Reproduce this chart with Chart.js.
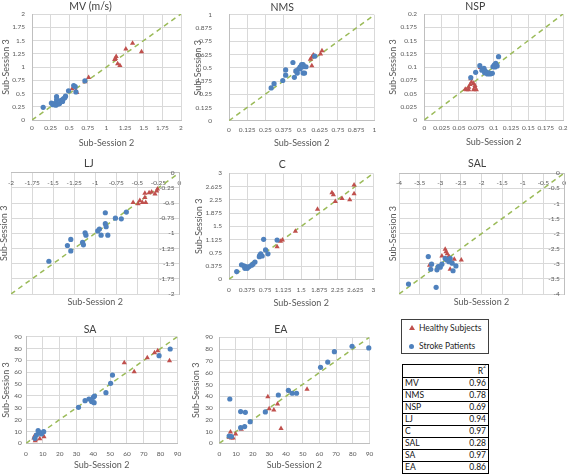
<!DOCTYPE html>
<html><head><meta charset="utf-8">
<script src="https://cdn.jsdelivr.net/npm/chart.js@4/dist/chart.umd.min.js"></script>
<style>
html,body{margin:0;padding:0;background:#fff;width:572px;height:475px;overflow:hidden;position:relative;font-family:Lato,"Open Sans",sans-serif;}
canvas{position:absolute;}
#legend{position:absolute;left:401px;top:319px;width:88px;height:35px;border:1px solid #404040;box-sizing:border-box;font-size:8.5px;color:#262626;}
#legend .it{position:absolute;left:17px;line-height:10px;height:10px;white-space:nowrap;}
#legend .tri{position:absolute;left:-10px;top:2px;width:0;height:0;border-left:3px solid transparent;border-right:3px solid transparent;border-bottom:5px solid #C0504D;}
#legend .dot{position:absolute;left:-10px;top:2.5px;width:5px;height:5px;border-radius:50%;background:#4F81BD;}
#tbl{position:absolute;left:402px;top:364px;width:87px;border:1px solid #000;box-sizing:border-box;font-size:8.5px;color:#111;}
#tbl .r{position:relative;height:11px;line-height:11px;border-top:1px solid #000;}
#tbl .r:first-child{border-top:none;height:12px;line-height:13px;}
#tbl .l{position:absolute;left:2px;}
#tbl .v{position:absolute;right:2px;}
#tbl sup{font-size:5px;vertical-align:6px;line-height:0;}
</style></head><body>
<div id="legend">
  <div class="it" style="top:3px"><span class="tri"></span>Healthy Subjects</div>
  <div class="it" style="top:21px"><span class="dot"></span>Stroke Patients</div>
</div>
<div id="tbl"></div>
<script>
// ---------- data ----------
const mvHealthyX = [0.54,0.59,0.60,0.71,0.76,1.11,1.12,1.13,1.15,1.18,1.26,1.35,1.47];
const mvHealthyY = [0.59,0.55,0.52,0.72,0.80,1.14,1.16,1.20,1.06,1.03,1.34,1.45,1.29];
const mvStrokeX = [0.15,0.26,0.28,0.30,0.32,0.33,0.33,0.35,0.37,0.39,0.41,0.42,0.44,0.45,0.49,0.56,0.58,0.59,0.71];
const mvStrokeY = [0.24,0.32,0.29,0.31,0.28,0.44,0.38,0.30,0.31,0.37,0.35,0.40,0.42,0.45,0.55,0.65,0.63,0.53,0.74];

const nmsHealthyX = [0.46,0.51,0.52,0.56,0.57,0.58,0.59,0.57,0.63,0.64];
const nmsHealthyY = [0.47,0.52,0.51,0.58,0.60,0.62,0.61,0.52,0.63,0.66];
const nmsStrokeX = [0.29,0.31,0.37,0.39,0.39,0.44,0.45,0.46,0.47,0.48,0.49,0.49,0.50,0.51,0.51,0.52,0.53,0.51,0.59];
const nmsStrokeY = [0.31,0.35,0.38,0.43,0.48,0.55,0.41,0.47,0.45,0.49,0.51,0.49,0.53,0.53,0.45,0.45,0.51,0.51,0.61];

const nspHealthyX = [0.059,0.061,0.064,0.066,0.068,0.071,0.067,0.073,0.075,0.071,0.073,0.081,0.064];
const nspHealthyY = [0.058,0.057,0.062,0.067,0.071,0.069,0.078,0.062,0.057,0.057,0.065,0.099,0.057];
const nspStrokeX = [0.067,0.074,0.080,0.083,0.086,0.087,0.087,0.089,0.091,0.093,0.095,0.098,0.099,0.101,0.102,0.103,0.105,0.107];
const nspStrokeY = [0.080,0.090,0.1025,0.094,0.0975,0.093,0.089,0.091,0.087,0.089,0.087,0.088,0.1006,0.104,0.100,0.107,0.102,0.1195];

const ljHealthyX = [-0.55,-0.49,-0.47,-0.44,-0.41,-0.40,-0.41,-0.36,-0.33,-0.29,-0.27,-0.26];
const ljHealthyY = [-0.49,-0.51,-0.46,-0.49,-0.41,-0.49,-0.34,-0.33,-0.32,-0.35,-0.30,-0.27];
const ljStrokeX = [-1.55,-1.33,-1.29,-1.29,-1.15,-1.14,-1.12,-1.11,-0.97,-0.95,-0.93,-0.88,-0.88,-0.87,-0.85,-0.76,-0.69,-0.63];
const ljStrokeY = [-1.46,-1.20,-1.10,-1.29,-1.15,-1.19,-0.99,-1.03,-0.96,-0.93,-1.03,-0.66,-0.84,-0.89,-1.03,-0.75,-0.76,-0.65];

const cHealthyX = [1.00,1.07,1.11,1.38,1.84,2.14,2.17,2.21,2.35,2.51,2.60,2.60];
const cHealthyY = [0.92,1.08,1.11,1.36,1.98,2.45,2.39,2.20,2.29,2.25,2.67,2.42];
const cStrokeX = [0.16,0.26,0.31,0.33,0.35,0.38,0.42,0.47,0.50,0.54,0.63,0.64,0.66,0.69,0.72,0.76,0.81,1.00];
const cStrokeY = [0.22,0.41,0.38,0.31,0.36,0.31,0.36,0.40,0.43,0.49,0.64,0.68,0.72,0.66,1.13,0.83,0.72,1.11];

const salHealthyX = [-3.26,-2.96,-2.88,-2.86,-2.83,-2.79,-2.76,-2.66,-2.49,-2.82];
const salHealthyY = [-3.05,-2.74,-2.52,-2.60,-2.67,-2.76,-3.18,-2.85,-2.87,-2.82];
const salStrokeX = [-3.77,-3.29,-3.21,-3.23,-3.10,-3.08,-3.05,-3.00,-2.96,-2.88,-2.84,-2.79,-2.76,-2.71,-2.69,-2.62];
const salStrokeY = [-3.67,-2.76,-3.01,-3.18,-3.78,-3.20,-3.09,-3.11,-3.01,-2.82,-2.87,-2.93,-2.82,-2.98,-3.23,-3.07];

const saHealthyX = [4.7,5.1,5.5,5.8,8.2,10.7,58.4,64.3,72.1,76.4,78.3,85.3];
const saHealthyY = [4.5,6.2,2.2,3.4,3.9,5.6,68.0,60.5,72.3,76.5,78.2,69.7];
const saStrokeX = [5.3,6.2,7.2,8.2,9.2,10.5,31.2,35.1,37.4,39.0,40.0,40.5,40.7,47.5,50.3,51.4,79.1,85.7];
const saStrokeY = [4.2,7.0,10.7,9.0,7.9,9.8,30.4,36.0,37.4,35.2,38.8,34.3,39.9,42.7,50.6,57.6,74.0,79.6];

const eaHealthyX = [5.9,6.7,7.3,8.3,9.8,13.2,29.1,29.9,32.7,34.9,37.0,42.1,52.6];
const eaHealthyY = [5.1,9.6,4.5,4.5,7.9,11.9,39.6,29.4,28.3,33.4,12.5,44.2,45.9];
const eaStrokeX = [5.9,6.3,7.3,12.8,12.8,15.2,15.6,18.5,27.6,35.4,41.4,43.7,46.3,60.7,65.0,69.0,79.6,89.6];
const eaStrokeY = [6.2,37.6,5.7,26.9,13.3,14.2,26.3,18.4,26.6,41.0,45.0,42.5,42.5,64.5,69.0,77.8,82.4,81.0];

// axis ranges: [min, max, tick step]
const mvAxis = [0, 2, 0.25];
const nmsAxis = [0, 1, 0.125];
const nspAxis = [0, 0.2, 0.025];
const ljAxis = [-2, 0, 0.25];
const cAxis = [0, 3, 0.375];
const salAxis = [-4, 0, 0.5];
const saAxis = [0, 90, 10];
const eaAxis = [0, 90, 10];

const r2Labels = ['MV','NMS','NSP','LJ','C','SAL','SA','EA'];
const r2Values = ['0.96','0.78','0.69','0.94','0.97','0.28','0.97','0.86'];

// ---------- rendering ----------
Chart.defaults.font.family = 'Lato, "Open Sans", sans-serif';
Chart.defaults.color = '#595959';
const TICK = 6.5, AXT = 9, TTL = 10.5, LH = 1.2;

function make(s) {
  const c = document.createElement('canvas');
  const w = s.x1 - s.x0, h = s.y1 - s.y0;
  c.width = w; c.height = h;
  c.style.left = s.x0 + 'px'; c.style.top = s.y0 + 'px';
  c.style.width = w + 'px'; c.style.height = h + 'px';
  document.body.appendChild(c);
  const tl = TTL * LH, al = AXT * LH, kl = TICK * LH;
  const tpt = s.titleY - s.y0 - tl / 2;
  const tpb = s.area.t - s.y0 - tpt - tl;
  const pts = (xs, ys) => xs.map((x, i) => ({x: x, y: ys[i]}));
  const ax = s.axis;
  const datasets = [
    {label: 'Stroke Patients', data: pts(s.sx, s.sy), pointStyle: 'circle', pointRadius: 2.6,
     backgroundColor: '#4F81BD', borderColor: '#4F81BD', borderWidth: 0, order: 1, clip: false},
    {label: 'Healthy Subjects', data: pts(s.hx, s.hy), pointStyle: 'triangle', pointRadius: 3,
     backgroundColor: '#C0504D', borderColor: '#C0504D', borderWidth: 0, order: 2, clip: false},
    {label: 'identity', data: [{x: ax[0], y: ax[0]}, {x: ax[1], y: ax[1]}], showLine: true, pointRadius: 0,
     borderColor: '#9BBB59', borderWidth: 1.5, borderDash: [5, 4], order: 3}
  ];
  const cb = v => String(Math.round(v * 10000) / 10000);
  const grid = {color: '#D9D9D9', drawTicks: false, lineWidth: 1};
  const common = {type: 'linear', min: ax[0], max: ax[1], grid: grid, border: {color: '#BFBFBF'}};
  const tk = (pad, mirror) => ({stepSize: ax[2], autoSkip: false, maxRotation: 0, minRotation: 0,
    font: {size: TICK}, padding: pad, mirror: !!mirror, callback: cb, color: '#595959'});
  const xTitle = {display: true, text: 'Sub-Session 2', font: {size: AXT}, color: '#595959',
    padding: {top: 0, bottom: s.y1 - s.xTitleY - al / 2}};
  const yTitle = {display: true, text: 'Sub-Session 3', font: {size: AXT}, color: '#595959',
    padding: {top: s.yTitleX - s.x0 - al / 2, bottom: 0}};
  let scales;
  if (!s.neg) {
    scales = {
      x: Object.assign({}, common, {position: 'bottom', ticks: tk(s.xTickY - s.area.b - kl / 2), title: xTitle,
          afterFit: sc => { sc.height = s.y1 - s.area.b; }}),
      y: Object.assign({}, common, {position: 'left', ticks: tk(s.area.l - s.yTickR), title: yTitle,
          afterFit: sc => { sc.width = s.area.l - s.x0; }})
    };
  } else {
    scales = {
      x: Object.assign({}, common, {position: 'top', ticks: tk(s.xTickY - s.area.t - kl / 2, true),
          afterFit: sc => { sc.height = 0; }}),
      y: Object.assign({}, common, {position: 'right', ticks: tk(s.yTickR - s.area.r, true),
          afterFit: sc => { sc.width = 0; }}),
      xt: {type: 'linear', axis: 'x', position: 'bottom', grid: {display: false}, border: {display: false},
          ticks: {display: false}, title: xTitle, afterFit: sc => { sc.height = s.y1 - s.area.b; }},
      yt: {type: 'linear', axis: 'y', position: 'left', grid: {display: false}, border: {display: false},
          ticks: {display: false}, title: yTitle, afterFit: sc => { sc.width = s.area.l - s.x0; }}
    };
  }
  new Chart(c, {
    type: 'scatter',
    data: {datasets: datasets},
    options: {
      responsive: false, animation: false, devicePixelRatio: 1,
      layout: {autoPadding: false, padding: {left: 0, top: 0, bottom: 0, right: s.x1 - s.area.r}},
      plugins: {
        legend: {display: false}, tooltip: {enabled: false},
        title: {display: true, text: s.title, color: '#404040', font: {size: TTL, weight: 'normal'},
                padding: {top: tpt, bottom: tpb}}
      },
      scales: scales
    }
  });
}

const specs = [
  {title: 'MV (m/s)', axis: mvAxis, hx: mvHealthyX, hy: mvHealthyY, sx: mvStrokeX, sy: mvStrokeY,
   x0: 0, x1: 188, y0: -6, y1: 150, area: {l: 32, t: 14, r: 181, b: 120},
   titleY: 6.3, xTickY: 127.7, xTitleY: 143, yTitleX: 5.7, yTickR: 25},
  {title: 'NMS', axis: nmsAxis, hx: nmsHealthyX, hy: nmsHealthyY, sx: nmsStrokeX, sy: nmsStrokeY,
   x0: 190, x1: 382, y0: -6, y1: 150, area: {l: 229, t: 14.3, r: 374.3, b: 120.7},
   titleY: 6.7, xTickY: 130, xTitleY: 143.3, yTitleX: 197.7, yTickR: 212},
  {title: 'NSP', axis: nspAxis, hx: nspHealthyX, hy: nspHealthyY, sx: nspStrokeX, sy: nspStrokeY,
   x0: 385, x1: 572, y0: -6, y1: 150, area: {l: 424.3, t: 14, r: 565.7, b: 120},
   titleY: 6.3, xTickY: 128.3, xTitleY: 142, yTitleX: 393, yTickR: 417},
  {title: 'LJ', neg: true, axis: ljAxis, hx: ljHealthyX, hy: ljHealthyY, sx: ljStrokeX, sy: ljStrokeY,
   x0: -4, x1: 188, y0: 150, y1: 310, area: {l: 11, t: 172.7, r: 181.7, b: 294},
   titleY: 164, xTickY: 183.3, xTitleY: 301.7, yTitleX: 4, yTickR: 176.7},
  {title: 'C', axis: cAxis, hx: cHealthyX, hy: cHealthyY, sx: cStrokeX, sy: cStrokeY,
   x0: 190, x1: 382, y0: 150, y1: 310, area: {l: 229, t: 173.3, r: 374.3, b: 279.3},
   titleY: 165, xTickY: 290, xTitleY: 302.7, yTitleX: 199.3, yTickR: 222},
  {title: 'SAL', neg: true, axis: salAxis, hx: salHealthyX, hy: salHealthyY, sx: salStrokeX, sy: salStrokeY,
   x0: 385, x1: 572, y0: 150, y1: 310, area: {l: 399, t: 173.3, r: 569.3, b: 294},
   titleY: 164, xTickY: 183.3, xTitleY: 302.3, yTitleX: 393.3, yTickR: 565},
  {title: 'SA', axis: saAxis, hx: saHealthyX, hy: saHealthyY, sx: saStrokeX, sy: saStrokeY,
   x0: 0, x1: 188, y0: 310, y1: 475, area: {l: 26, t: 336.7, r: 180, b: 443.3},
   titleY: 329.3, xTickY: 454, xTitleY: 465, yTitleX: 6, yTickR: 21.7},
  {title: 'EA', axis: eaAxis, hx: eaHealthyX, hy: eaHealthyY, sx: eaStrokeX, sy: eaStrokeY,
   x0: 190, x1: 380, y0: 310, y1: 475, area: {l: 219.3, t: 337.3, r: 371.7, b: 443.3},
   titleY: 329.3, xTickY: 454, xTitleY: 465, yTitleX: 196, yTickR: 212.7}
];
specs.forEach(make);

// R² table
const tbl = document.getElementById('tbl');
let html = '<div class="r"><span class="v">R<sup>2</sup></span></div>';
r2Labels.forEach((l, i) => {
  html += '<div class="r"><span class="l">' + l + '</span><span class="v">' + r2Values[i] + '</span></div>';
});
tbl.innerHTML = html;
</script>
</body></html>
